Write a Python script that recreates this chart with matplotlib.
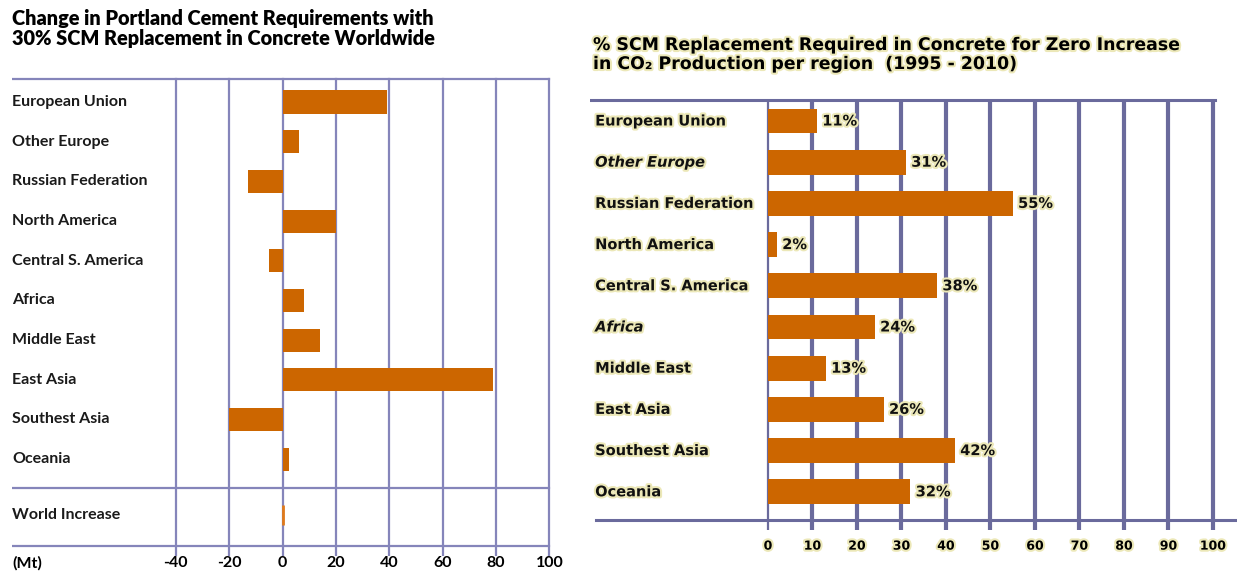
import numpy as np
import matplotlib
matplotlib.use("Agg")
import matplotlib.pyplot as plt
import matplotlib.patheffects as pe
import matplotlib.transforms as mtransforms

# data
regions = ["European Union", "Other Europe", "Russian Federation", "North America",
           "Central S. America", "Africa", "Middle East", "East Asia",
           "Southest Asia", "Oceania"]
change_mt = [39, 6, -13, 20, -5, 8, 14, 79, -20, 2.5]
world_label = "World Increase"
world_change = 0
left_ticks = [-40, -20, 0, 20, 40, 60, 80, 100]

scm_pct = [11, 31, 55, 2, 38, 24, 13, 26, 42, 32]
italic_regions = ["Other Europe", "Africa"]
right_ticks = [0, 10, 20, 30, 40, 50, 60, 70, 80, 90, 100]

W, H = 1237, 577
fig = plt.figure(figsize=(W / 100, H / 100), dpi=100)


def box(x0, y0, x1, y1):
    return [x0 / W, 1 - y1 / H, (x1 - x0) / W, (y1 - y0) / H]


orange = "#cc6600"
grid_l = "#8585ba"
grid_r = "#6a6a9c"
halo = [pe.withStroke(linewidth=3, foreground="#ece8b8")]

# ---------------- left chart ----------------
ax1 = fig.add_axes(box(12, 76, 552, 556))
ax1.set_xlim(-101.4, 101.0)
ax1.set_ylim(11.44, -0.655)
for s in ax1.spines.values():
    s.set_visible(False)

ypos = np.arange(len(regions))
world_y = 10.4
top_line, sep_line, bot_line = -0.58, 9.72, 11.18

for t in left_ticks:
    ax1.plot([t, t], [top_line, 11.44], color=grid_l, lw=1.6, zorder=1)
for yl in [top_line, sep_line, bot_line]:
    ax1.plot([-101.4, 100], [yl, yl], color=grid_l, lw=1.6, zorder=1)

ax1.barh(ypos, change_mt, height=0.58, color=orange, zorder=2)
ax1.barh([world_y], [world_change], height=0.5, color=orange,
         edgecolor="#e07a1a", lw=2.0, zorder=3)

lab = "Lato"
fs_l = 11.5
trans1 = mtransforms.blended_transform_factory(ax1.transAxes, ax1.transData)
for y, name in zip(ypos, regions):
    ax1.text(0, y, name, transform=trans1, ha="left", va="center",
             fontsize=fs_l, family=lab, fontweight="bold", color="#1a1a1a")
ax1.text(0, world_y, world_label, transform=trans1, ha="left", va="center",
         fontsize=fs_l, family=lab, fontweight="bold", color="#1a1a1a")

ax1.set_xticks(left_ticks)
ax1.set_xticklabels([str(t) for t in left_ticks], family=lab,
                    fontweight="bold", fontsize=fs_l)
ax1.tick_params(axis="x", length=0, pad=0)
ax1.set_yticks([])
fig.text(12 / W, 1 - 563 / H, "(Mt)", ha="left", va="center",
         family=lab, fontweight="bold", fontsize=fs_l)

fig.text(12 / W, 1 - 18 / H, "Change in Portland Cement Requirements with",
         ha="left", va="center", family=lab, fontweight="heavy", fontsize=14.3)
fig.text(12 / W, 1 - 38 / H, "30% SCM Replacement in Concrete Worldwide",
         ha="left", va="center", family=lab, fontweight="heavy", fontsize=14.3)

# ---------------- right chart ----------------
ax2 = fig.add_axes(box(590, 98, 1237, 532))
ax2.set_xlim(-40.0, 105.4)
ax2.set_ylim(9.976, -0.558)
for s in ax2.spines.values():
    s.set_visible(False)

rtop, rbot = -0.51, 9.68
for t in right_ticks:
    lw = 1.6 if t == 0 else 3.0
    ax2.plot([t, t], [rtop, 9.92], color=grid_r, lw=lw, zorder=1,
             solid_capstyle="butt")
ax2.plot([-40, 100.5], [rtop, rtop], color=grid_r, lw=2.2, zorder=1)
ax2.plot([-38.7, 105.4], [rbot, rbot], color=grid_r, lw=2.2, zorder=1)

ax2.barh(ypos, scm_pct, height=0.6, color=orange, zorder=2)

trans2 = mtransforms.blended_transform_factory(ax2.transAxes, ax2.transData)
for y, name, v in zip(ypos, regions, scm_pct):
    style = "italic" if name in italic_regions else "normal"
    ax2.text(0.008, y, name, transform=trans2, ha="left", va="center",
             fontsize=10.5, fontweight="bold", style=style, family="DejaVu Sans",
             color="#111111", path_effects=halo)
    ax2.text(v + 1.2, y, f"{v}%", ha="left", va="center", fontsize=10.5,
             fontweight="bold", family="DejaVu Sans", color="#111111",
             path_effects=halo, zorder=3)

ax2.set_xticks(right_ticks)
ax2.set_xticklabels([str(t) for t in right_ticks], fontweight="bold",
                    fontsize=9, family="DejaVu Sans")
for tl in ax2.get_xticklabels():
    tl.set_path_effects(halo)
ax2.tick_params(axis="x", length=0, pad=5.5)
ax2.set_yticks([])

fig.text(593 / W, 1 - 45 / H,
         "% SCM Replacement Required in Concrete for Zero Increase",
         ha="left", va="center", fontsize=12.5, fontweight="bold",
         family="DejaVu Sans", path_effects=halo)
fig.text(593 / W, 1 - 64 / H, "in CO\u2082 Production per region  (1995 - 2010)",
         ha="left", va="center", fontsize=12.5, fontweight="bold",
         family="DejaVu Sans", path_effects=halo)

fig.savefig("out.png", dpi=100)
